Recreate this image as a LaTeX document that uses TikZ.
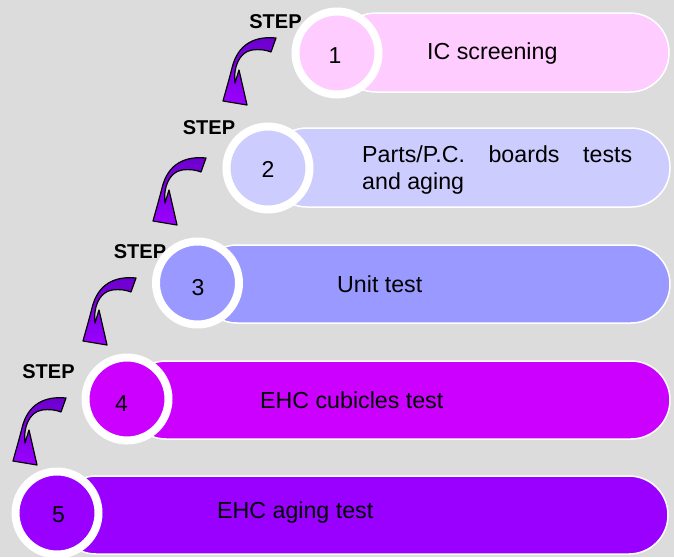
\documentclass[tikz,border=0pt]{standalone}
\usepackage{fontspec}
\setmainfont{Liberation Sans}
\definecolor{bg}{HTML}{DCDCDC}
\definecolor{cA}{HTML}{FFCCFF}
\definecolor{cB}{HTML}{CCCCFF}
\definecolor{cC}{HTML}{9999FF}
\definecolor{cD}{HTML}{CC00FF}
\definecolor{cE}{HTML}{9900FF}
\definecolor{arrtop}{HTML}{6A00CC}
\definecolor{arrbot}{HTML}{9A00FF}
\tikzset{
  bar/.style={draw=white, line width=1.5pt, rounded corners=39pt},
  numcircle/.style={circle, draw=white, line width=8pt, minimum size=83pt, inner sep=0pt},
  numtext/.style={font=\fontsize{23}{26}\selectfont, anchor=base, inner sep=0pt},
  bartext/.style={font=\fontsize{23.2}{27}\selectfont, anchor=base west, inner sep=0pt},
  steplabel/.style={font=\fontsize{20}{24}\selectfont\bfseries, anchor=base, inner sep=0pt},
  curvarrow/.pic={
    \path[top color=arrtop, bottom color=arrbot, draw=black, line width=1.2pt, line join=round]
      (0,0) .. controls (-20,-2) and (-38,5) .. (-44,30)
      .. controls (-47,42) and (-50,52) .. (-53,63)
      -- (-29,67) -- (-37,32) -- (-41,45)
      .. controls (-43,30) and (-37,14) .. (-24,12)
      .. controls (-16,11) and (-10,12) .. (-5,14) -- cycle;
  }
}
\begin{document}
\begin{tikzpicture}[x=1pt,y=-1pt]
\fill[bg] (0,0) rectangle (674,557);
\useasboundingbox (0,0) rectangle (674,557);
% bars
\draw[bar, fill=cA] (337,13) rectangle (669,92);
\draw[bar, fill=cB] (268,128) rectangle (670,207);
\draw[bar, fill=cC] (198,245) rectangle (670,323);
\draw[bar, fill=cD] (127,361) rectangle (670,439);
\draw[bar, fill=cE] (57,476) rectangle (668,554);
% bar texts
\node[bartext] (t1) at (427,59) {IC screening};
\node[bartext, align=left, anchor=north west] (t2) at (362,145)
  {\makebox[270pt][s]{Parts/P.C. boards tests}\\and aging};
\node[bartext] (t3) at (337,292) {Unit test};
\node[bartext] (t4) at (260,408) {EHC cubicles test};
\node[bartext] (t5) at (217,518) {EHC aging test};
% STEP labels
\node[steplabel] (s1) at (275.5,28.5) {STEP};
\node[steplabel] (s2) at (209,134) {STEP};
\node[steplabel] (s3) at (140,258) {STEP};
\node[steplabel] (s4) at (48.5,378) {STEP};
% arrows
\pic at (276,38) {curvarrow};
\pic at (206,158) {curvarrow};
\pic at (136,278) {curvarrow};
\pic at (66,398) {curvarrow};
% circles
\node[numcircle, fill=cA] (c1) at (337,53) {};
\node[numcircle, fill=cB] (c2) at (268,168) {};
\node[numcircle, fill=cC] (c3) at (197.5,283) {};
\node[numcircle, fill=cD] (c4) at (127,399) {};
\node[numcircle, fill=cE] (c5) at (57,513) {};
\node[numtext] (n1) at (335,63) {1};
\node[numtext] (n2) at (268,177) {2};
\node[numtext] (n3) at (198,295) {3};
\node[numtext] (n4) at (121.5,411) {4};
\node[numtext] (n5) at (58.5,522) {5};
\end{tikzpicture}
\end{document}
